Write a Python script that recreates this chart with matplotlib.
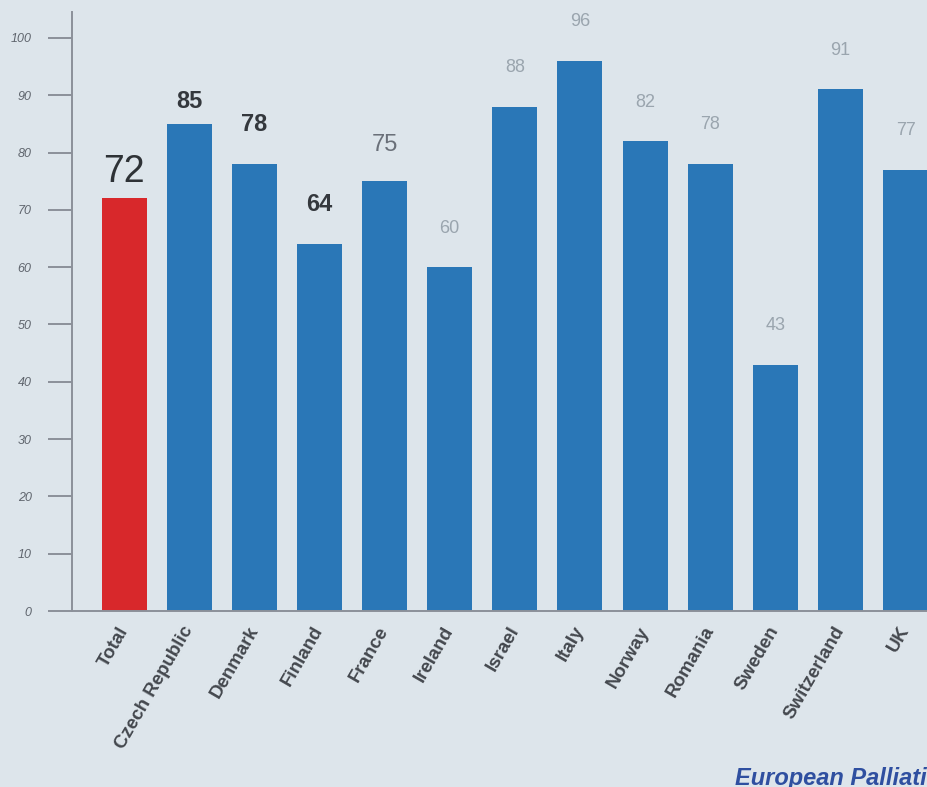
import matplotlib.pyplot as plt

countries = ['Total', 'Czech Republic', 'Denmark', 'Finland', 'France', 'Ireland',
             'Israel', 'Italy', 'Norway', 'Romania', 'Sweden', 'Switzerland', 'UK']
values = [72, 85, 78, 64, 75, 60, 88, 96, 82, 78, 43, 91, 77]
y_ticks = [0, 10, 20, 30, 40, 50, 60, 70, 80, 90, 100]

bg = '#dde5eb'
fig = plt.figure(figsize=(9.27, 7.87), dpi=100, facecolor=bg)
ax = fig.add_axes([0.0777, 0.2236, 0.9223, 0.761])
ax.set_facecolor(bg)

x = list(range(len(countries)))
colors = ['#d8282b'] + ['#2a77b7'] * (len(countries) - 1)
ax.bar(x, values, width=0.69, color=colors, zorder=2)

# value labels: first few dark, the rest faint grey
for i, v in enumerate(values):
    if i == 0:
        kw = dict(fontsize=27, color='#2e3236', offset=6)
    elif i in (1, 2, 3):
        kw = dict(fontsize=17, color='#34383d', offset=8 if i == 1 else 20, weight='bold')
    elif i == 4:
        kw = dict(fontsize=17, color='#6a7079', offset=18)
    else:
        kw = dict(fontsize=13, color='#9aa5ae', offset=22)
    off = kw.pop('offset')
    ax.annotate(str(v), (i, v), xytext=(0, off), textcoords='offset points',
                ha='center', va='bottom', family='Liberation Sans', **kw)

ax.set_xlim(-0.8, 12.33)
ax.set_ylim(0, 104.5)
ax.set_yticks(y_ticks)
ax.set_yticklabels([str(t) for t in y_ticks], fontsize=9, style='italic',
                   color='#5f656d', family='Liberation Sans')
ax.tick_params(axis='y', length=17, width=1.4, color='#8b9099', pad=12)

ax.set_xticks(x)
ax.set_xticklabels(countries, rotation=60, ha='right', va='center',
                   rotation_mode='anchor', fontsize=13.5, weight='bold',
                   color='#44484e', family='Liberation Sans')
ax.tick_params(axis='x', length=0, pad=12)

for side in ('top', 'right'):
    ax.spines[side].set_visible(False)
for side in ('left', 'bottom'):
    ax.spines[side].set_color('#8b9099')
    ax.spines[side].set_linewidth(1.4)

fig.text(0.793, 0.025, 'European Palliative', fontsize=17, style='italic',
         weight='bold', color='#2f4fa0', va='top', family='Liberation Sans')

fig.savefig('out.png', dpi=100, facecolor=bg)
